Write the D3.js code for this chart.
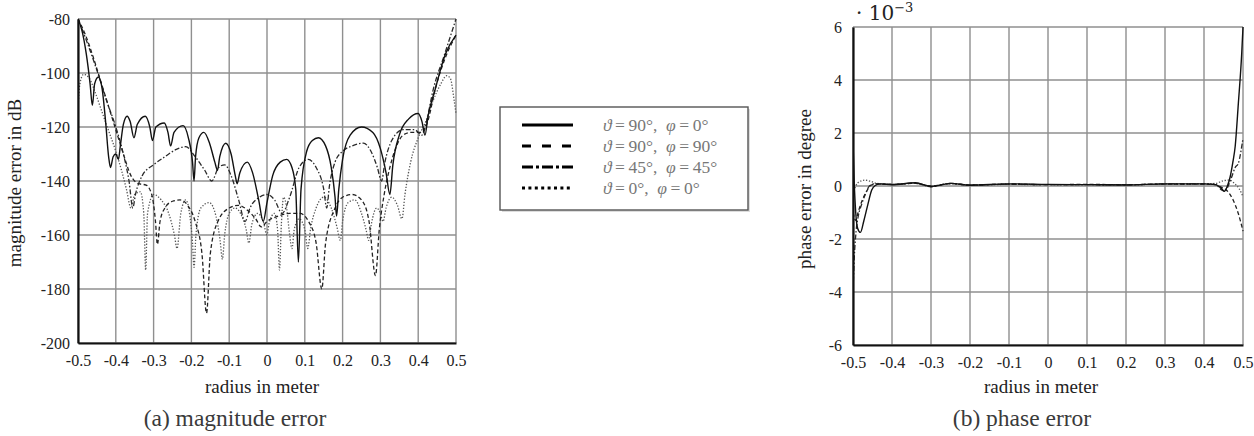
<!DOCTYPE html>
<html>
<head>
<meta charset="utf-8">
<script src="https://cdn.jsdelivr.net/npm/d3@7"></script>
<style>
  body { margin: 0; background: #fff; }
  svg { display: block; font-family: "Liberation Serif", "Times New Roman", serif; }
</style>
</head>
<body>
<svg id="fig" width="1254" height="436"></svg>
<script>
// tick values
const radiusTicks = [-0.5, -0.4, -0.3, -0.2, -0.1, 0, 0.1, 0.2, 0.3, 0.4, 0.5];
const magTicks = [-200, -180, -160, -140, -120, -100, -80];
const phaseTicks = [-6, -4, -2, 0, 2, 4, 6];

// legend labels: [theta, phi]
const legendAngles = [["90", "0"], ["90", "90"], ["45", "45"], ["0", "0"]];

// (a) magnitude error in dB, [radius, value]
const magSolid = [
  [-0.5, -80], [-0.49, -84], [-0.478, -93], [-0.468, -104], [-0.462, -112], [-0.456, -104],
  [-0.446, -101.5], [-0.436, -106], [-0.427, -118], [-0.419, -131], [-0.414, -135], [-0.407, -131],
  [-0.4, -130], [-0.393, -132], [-0.388, -127], [-0.38, -119], [-0.37, -116], [-0.362, -118],
  [-0.352, -124], [-0.343, -119], [-0.322, -116], [-0.31, -120], [-0.303, -125], [-0.294, -120],
  [-0.272, -118.5], [-0.262, -122], [-0.255, -127], [-0.246, -122], [-0.222, -119.5], [-0.208, -124],
  [-0.197, -133], [-0.193, -140], [-0.189, -131], [-0.18, -124], [-0.167, -122], [-0.152, -126],
  [-0.138, -133], [-0.131, -136], [-0.125, -131], [-0.109, -126], [-0.095, -130], [-0.084, -138],
  [-0.079, -141], [-0.072, -137], [-0.052, -133], [-0.038, -137], [-0.022, -147], [-0.01, -155],
  [0.0, -148], [0.015, -138], [0.035, -133], [0.052, -132], [0.066, -135], [0.076, -143],
  [0.083, -170], [0.09, -143], [0.105, -129], [0.12, -125], [0.136, -124], [0.155, -127],
  [0.17, -135], [0.18, -146], [0.184, -153], [0.19, -143], [0.2, -132], [0.22, -123],
  [0.25, -120], [0.28, -122], [0.3, -128], [0.315, -137], [0.325, -145], [0.333, -134],
  [0.35, -123], [0.375, -117], [0.4, -115], [0.41, -118], [0.418, -123], [0.426, -116],
  [0.445, -106], [0.472, -93], [0.5, -86]
];
const magDashed = [
  [-0.5, -80], [-0.48, -86], [-0.46, -94], [-0.44, -103], [-0.42, -112], [-0.4, -121],
  [-0.38, -130], [-0.36, -138], [-0.34, -141], [-0.32, -141.5], [-0.305, -145], [-0.295, -155],
  [-0.29, -163.5], [-0.283, -155], [-0.27, -150], [-0.25, -147.5], [-0.23, -147], [-0.21, -149],
  [-0.19, -155], [-0.172, -167], [-0.16, -189], [-0.15, -167], [-0.13, -155], [-0.1, -150],
  [-0.076, -149], [-0.05, -151], [-0.03, -154], [-0.015, -157], [0.0, -155], [0.03, -153],
  [0.06, -152], [0.087, -152], [0.11, -155], [0.13, -163], [0.145, -180], [0.155, -163],
  [0.18, -150], [0.2, -146], [0.225, -145], [0.25, -147], [0.27, -155], [0.287, -175],
  [0.297, -158], [0.31, -145], [0.325, -135], [0.34, -128], [0.36, -123], [0.38, -122],
  [0.41, -122], [0.425, -118], [0.445, -106], [0.47, -95], [0.5, -86]
];
const magDashDot = [
  [-0.5, -80], [-0.475, -89], [-0.45, -99], [-0.425, -110], [-0.4, -120], [-0.38, -130],
  [-0.365, -140], [-0.355, -150], [-0.348, -145], [-0.33, -138], [-0.3, -134], [-0.27, -131],
  [-0.243, -128.5], [-0.215, -127.3], [-0.19, -131], [-0.165, -136], [-0.146, -140], [-0.128, -135],
  [-0.112, -134], [-0.095, -138], [-0.075, -147], [-0.058, -155], [-0.045, -150], [-0.02, -146],
  [0.0, -145], [0.02, -147], [0.04, -152], [0.06, -146], [0.085, -135], [0.109, -132],
  [0.13, -135], [0.15, -143], [0.158, -150], [0.165, -142], [0.18, -133], [0.2, -129],
  [0.225, -127], [0.255, -126], [0.275, -129], [0.292, -135], [0.303, -140], [0.312, -133],
  [0.33, -125], [0.36, -121], [0.39, -121], [0.41, -123], [0.42, -119], [0.44, -106],
  [0.47, -93], [0.5, -80]
];
const magDotted = [
  [-0.5, -113], [-0.495, -104], [-0.485, -100.5], [-0.47, -102], [-0.455, -107], [-0.44, -113],
  [-0.42, -121], [-0.4, -129], [-0.385, -136], [-0.372, -143], [-0.36, -150], [-0.35, -145],
  [-0.335, -144], [-0.326, -152], [-0.321, -173], [-0.316, -152], [-0.3, -145], [-0.28, -147],
  [-0.26, -152], [-0.245, -160], [-0.238, -165], [-0.228, -152], [-0.215, -147], [-0.205, -152],
  [-0.197, -163], [-0.193, -172], [-0.188, -160], [-0.175, -150], [-0.153, -148], [-0.135, -153],
  [-0.124, -162], [-0.118, -169], [-0.112, -160], [-0.1, -152], [-0.085, -150], [-0.07, -152],
  [-0.055, -158], [-0.048, -163], [-0.04, -156], [-0.025, -152], [-0.01, -155], [0.0, -160],
  [0.005, -156], [0.02, -152], [0.028, -158], [0.033, -173], [0.038, -156], [0.044, -146],
  [0.052, -150], [0.06, -160], [0.066, -165], [0.072, -158], [0.085, -154], [0.1, -158],
  [0.108, -165], [0.115, -158], [0.13, -150], [0.15, -146], [0.17, -150], [0.185, -157],
  [0.194, -162], [0.2, -155], [0.215, -148], [0.232, -147], [0.25, -152], [0.262, -158],
  [0.269, -162], [0.276, -156], [0.29, -150], [0.3, -152], [0.307, -155], [0.315, -150],
  [0.33, -146], [0.345, -149], [0.357, -154], [0.365, -145], [0.38, -133], [0.4, -124],
  [0.42, -118], [0.44, -110], [0.46, -104], [0.475, -101], [0.485, -102], [0.495, -110],
  [0.5, -115]
];

// (b) phase error in 1e-3 degree, [radius, value]
const phaseSolid = [
  [-0.5, 1.7], [-0.497, 0.2], [-0.493, -1.0], [-0.488, -1.6], [-0.481, -1.75], [-0.472, -1.3],
  [-0.462, -0.7], [-0.452, -0.15], [-0.443, 0.02], [-0.43, 0.08], [-0.4, 0.05], [-0.34, 0.12],
  [-0.3, -0.02], [-0.25, 0.1], [-0.2, 0.03], [-0.1, 0.08], [0, 0.06], [0.1, 0.05],
  [0.2, 0.04], [0.3, 0.08], [0.4, 0.08], [0.43, 0.05], [0.445, -0.1], [0.452, -0.2],
  [0.46, 0.0], [0.467, 0.34], [0.474, 0.9], [0.48, 1.5], [0.488, 3.1], [0.4967, 5.0], [0.5, 6.0]
];
const phaseDashed = [
  [-0.5, -1.0], [-0.493, -1.3], [-0.487, -1.0], [-0.478, -0.6], [-0.465, -0.2], [-0.455, 0.02],
  [-0.44, 0.08], [-0.4, 0.06], [-0.34, 0.1], [-0.3, 0.0], [-0.25, 0.09], [-0.2, 0.04],
  [-0.1, 0.07], [0, 0.05], [0.1, 0.06], [0.2, 0.05], [0.3, 0.07], [0.4, 0.07], [0.43, 0.05],
  [0.445, -0.05], [0.458, -0.16], [0.475, -0.54], [0.488, -1.04], [0.5, -1.7]
];
const phaseDashDot = [
  [-0.5, -4.0], [-0.497, -2.8], [-0.492, -1.7], [-0.486, -1.1], [-0.478, -0.7], [-0.468, -0.3],
  [-0.458, 0.0], [-0.445, 0.08], [-0.4, 0.06], [-0.34, 0.11], [-0.3, -0.03], [-0.25, 0.1],
  [-0.2, 0.03], [-0.1, 0.07], [0, 0.05], [0.1, 0.05], [0.2, 0.04], [0.3, 0.08], [0.4, 0.08],
  [0.43, 0.05], [0.445, -0.15], [0.455, -0.2], [0.462, 0.0], [0.47, 0.3], [0.48, 0.7],
  [0.488, 0.85], [0.494, 1.25], [0.5, 1.8]
];
const phaseDotted = [
  [-0.5, -0.3], [-0.493, 0.0], [-0.485, 0.15], [-0.47, 0.22], [-0.455, 0.18], [-0.44, 0.1],
  [-0.4, 0.06], [-0.34, 0.1], [-0.3, 0.0], [-0.25, 0.08], [-0.2, 0.04], [-0.1, 0.06],
  [0, 0.05], [0.1, 0.05], [0.2, 0.05], [0.3, 0.07], [0.4, 0.08], [0.43, 0.1], [0.45, 0.2],
  [0.465, 0.22], [0.478, 0.1], [0.49, -0.1], [0.5, -0.4]
];

const styles = [
  { dash: null, legendDash: null, color: "#111", width: 1.4 },
  { dash: "4,2.5", legendDash: "9,11", color: "#222", width: 1.3 },
  { dash: "5,2,1.5,2", legendDash: "11,3,3,3", color: "#2a2a2a", width: 1.3 },
  { dash: "1.3,1.7", legendDash: "3,3.4", color: "#555", width: 1.3 }
];

const svg = d3.select("#fig");

function fmtTick(d) {
  return d === 0 ? "0" : String(d);
}

function drawPanel(cfg) {
  const { x, y, xTicks, yTicks, series } = cfg;
  const [x0, x1] = x.range();
  const [y0, y1] = y.range(); // bottom, top
  const g = svg.append("g");

  // grid
  g.append("g").selectAll("line").data(xTicks).join("line")
    .attr("x1", (d) => x(d)).attr("x2", (d) => x(d))
    .attr("y1", y1).attr("y2", y0)
    .attr("stroke", "#8f8f8f").attr("stroke-width", 1.4);
  g.append("g").selectAll("line").data(yTicks).join("line")
    .attr("x1", x0).attr("x2", x1)
    .attr("y1", (d) => y(d)).attr("y2", (d) => y(d))
    .attr("stroke", "#8f8f8f").attr("stroke-width", 1.4);

  // curves
  const line = d3.line()
    .x((d) => x(d[0]))
    .y((d) => y(d[1]))
    .curve(d3.curveMonotoneX);
  const clipId = "clip" + Math.round(x0);
  svg.append("clipPath").attr("id", clipId).append("rect")
    .attr("x", x0).attr("y", y1 - 2).attr("width", x1 - x0 + 2).attr("height", y0 - y1 + 2);
  const curves = g.append("g").attr("clip-path", `url(#${clipId})`);
  series.slice().reverse().forEach((data, i) => {
    const s = styles[series.length - 1 - i];
    curves.append("path")
      .attr("d", line(data))
      .attr("fill", "none")
      .attr("stroke", s.color)
      .attr("stroke-width", s.width)
      .attr("stroke-dasharray", s.dash)
      .attr("stroke-linejoin", "round");
  });

  // axes (black left & bottom)
  const axisX = g.append("g").attr("transform", `translate(0,${y0})`)
    .call(d3.axisBottom(x).tickValues(xTicks).tickFormat(fmtTick).tickSize(0).tickPadding(12));
  axisX.select(".domain").attr("stroke", "#111").attr("stroke-width", 2.2);
  axisX.selectAll("text").attr("font-size", 16).attr("fill", "#222")
    .attr("font-family", "Liberation Serif, serif");

  const axisY = g.append("g").attr("transform", `translate(${x0},0)`)
    .call(d3.axisLeft(y).tickValues(yTicks).tickFormat(fmtTick).tickSize(0).tickPadding(cfg.yPad));
  axisY.select(".domain").attr("stroke", "#111").attr("stroke-width", 2.2);
  axisY.selectAll("text").attr("font-size", 16).attr("fill", "#222")
    .attr("font-family", "Liberation Serif, serif");

  // titles
  g.append("text")
    .attr("x", cfg.xTitle[0]).attr("y", cfg.xTitle[1])
    .attr("text-anchor", "middle").attr("font-size", 19).attr("fill", "#222")
    .text("radius in meter");
  g.append("text")
    .attr("transform", `translate(${cfg.yTitle[0]},${cfg.yTitle[1]}) rotate(-90)`)
    .attr("text-anchor", "middle").attr("font-size", 19).attr("fill", "#222")
    .text(cfg.yLabel);
  g.append("text")
    .attr("x", cfg.caption[0]).attr("y", cfg.caption[1])
    .attr("text-anchor", "middle").attr("font-size", 23.5).attr("fill", "#3a3a3a")
    .text(cfg.captionText);
}

drawPanel({
  x: d3.scaleLinear().domain([-0.5, 0.5]).range([78, 456]),
  y: d3.scaleLinear().domain([-200, -80]).range([343, 19]),
  xTicks: radiusTicks,
  yTicks: magTicks,
  yPad: 8,
  series: [magSolid, magDashed, magDashDot, magDotted],
  xTitle: [262, 393],
  yTitle: [21, 183],
  yLabel: "magnitude error in dB",
  caption: [235, 426],
  captionText: "(a) magnitude error"
});

drawPanel({
  x: d3.scaleLinear().domain([-0.5, 0.5]).range([853, 1243]),
  y: d3.scaleLinear().domain([-6, 6]).range([345, 27]),
  xTicks: radiusTicks,
  yTicks: phaseTicks,
  yPad: 11,
  series: [phaseSolid, phaseDashed, phaseDashDot, phaseDotted],
  xTitle: [1041, 393],
  yTitle: [811, 189],
  yLabel: "phase error in degree",
  caption: [1022, 426],
  captionText: "(b) phase error"
});

// exponent factor above the phase panel
const expo = svg.append("text").attr("x", 856).attr("y", 20)
  .attr("font-size", 20).attr("fill", "#222").attr("font-family", "DejaVu Serif, serif");
expo.append("tspan").text("· 10");
expo.append("tspan").attr("font-size", 13).attr("dy", -8).text("−3");

// legend
const legend = svg.append("g");
legend.append("rect").attr("x", 502).attr("y", 109).attr("width", 248).attr("height", 103)
  .attr("fill", "#ddd");
legend.append("rect").attr("x", 500).attr("y", 107).attr("width", 248).attr("height", 103)
  .attr("fill", "#fff").attr("stroke", "#555").attr("stroke-width", 1.4);
const rowY = d3.scalePoint().domain(d3.range(legendAngles.length)).range([125, 188]);
legendAngles.forEach((a, i) => {
  const s = styles[i];
  legend.append("line")
    .attr("x1", 522).attr("x2", 573).attr("y1", rowY(i)).attr("y2", rowY(i))
    .attr("stroke", "#000").attr("stroke-width", 3.2)
    .attr("stroke-dasharray", s.legendDash);
  const t = legend.append("text").attr("x", 603).attr("y", rowY(i) + 5.5)
    .attr("font-size", 17.5).attr("fill", "#777")
    .attr("font-family", "Liberation Serif, serif")
    .attr("xml:space", "preserve");
  t.append("tspan").attr("font-style", "italic").text("ϑ");
  t.append("tspan").text(`\u2009=\u2009${a[0]}°,\u2002`);
  t.append("tspan").attr("font-style", "italic").text("φ");
  t.append("tspan").text(`\u2009=\u2009${a[1]}°`);
});
</script>
</body>
</html>
